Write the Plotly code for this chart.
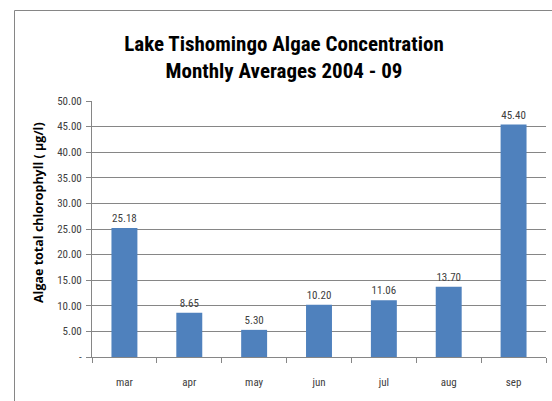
import plotly.graph_objects as go

months = ["mar", "apr", "may", "jun", "jul", "aug", "sep"]
values = [25.18, 8.65, 5.30, 10.20, 11.06, 13.70, 45.40]
tick_vals = [0, 5, 10, 15, 20, 25, 30, 35, 40, 45, 50]
tick_text = ["-", "5.00", "10.00", "15.00", "20.00", "25.00", "30.00", "35.00", "40.00", "45.00", "50.00"]

W, H = 552, 401
L, R, T, B = 92, 6, 101, 44
pw, ph = W - L - R, H - T - B

FONT = "Liberation Sans Narrow, Roboto Condensed, Arial Narrow, Liberation Sans, sans-serif"

fig = go.Figure()
fig.add_trace(go.Bar(
    x=months, y=values,
    marker=dict(color="#4F81BD", line=dict(width=0)),
    width=0.4,
    text=[f"{v:.2f}" for v in values],
    textposition="outside",
    textfont=dict(size=11, color="#404040", family=FONT),
    cliponaxis=False,
))

def px_x(p):
    return (p - L) / pw

def px_y(p):
    return 1 - (p - T) / ph

fig.update_layout(
    width=W, height=H,
    margin=dict(l=L, r=R, t=T, b=B),
    paper_bgcolor="white", plot_bgcolor="white",
    showlegend=False,
    bargap=0.6,
    font=dict(family=FONT, color="#404040"),
    title=dict(
        text="<b>Lake Tishomingo Algae Concentration<br>Monthly Averages 2004 - 09</b>",
        x=px_x(284), xanchor="center", xref="paper",
        y=1 - 51 / H, yanchor="middle",
        font=dict(size=21, color="#000000", family="Liberation Sans Narrow, Roboto Condensed, sans-serif"),
    ),
    xaxis=dict(
        automargin=False,
        showgrid=False, showline=True, linecolor="#868686", linewidth=1,
        ticks="outside", ticklen=5, tickcolor="#868686",
        tickson="boundaries",
        ticklabelstandoff=15,
        tickfont=dict(size=11, color="#404040"),
    ),
    yaxis=dict(
        automargin=False,
        range=[0, 50], tickvals=tick_vals, ticktext=tick_text,
        showgrid=True, gridcolor="#868686", gridwidth=1,
        showline=True, linecolor="#868686", linewidth=1,
        ticks="outside", ticklen=5, tickcolor="#868686",
        ticklabelstandoff=2,
        tickfont=dict(size=11, color="#404040"),
        zeroline=False,
    ),
    annotations=[
        dict(text="<b>Algae total chlorophyll ( µg/l)</b>", xref="paper", yref="paper",
             x=px_x(38), y=px_y(213), xanchor="center", yanchor="middle", textangle=-90,
             showarrow=False, font=dict(size=12.5, color="#000000", family="Open Sans, sans-serif")),
    ],
    shapes=[
        dict(type="line", xref="paper", yref="paper", x0=px_x(14.5), x1=px_x(552), y0=px_y(10.5), y1=px_y(10.5),
             line=dict(color="#868686", width=1)),
        dict(type="line", xref="paper", yref="paper", x0=px_x(14.5), x1=px_x(14.5), y0=px_y(10.5), y1=px_y(401),
             line=dict(color="#868686", width=1)),
    ],
)

fig.write_html("out.html", config={"displayModeBar": False},
               post_script="document.body.style.margin='0';document.body.style.padding='0';")
